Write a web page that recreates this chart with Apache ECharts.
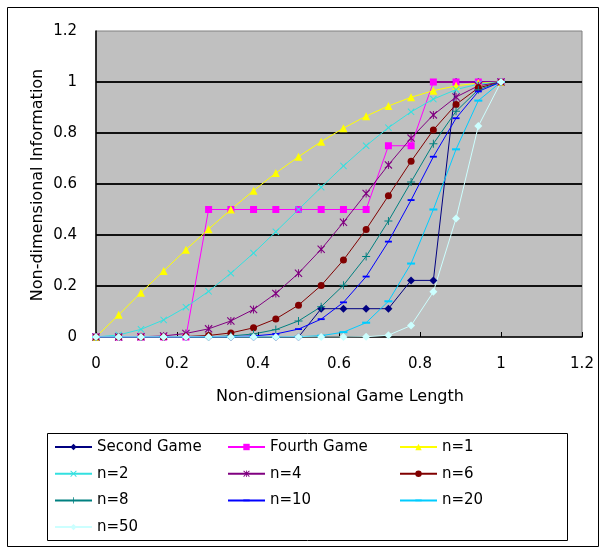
<!DOCTYPE html>
<html>
<head>
<meta charset="utf-8">
<script src="https://cdn.jsdelivr.net/npm/echarts@6/dist/echarts.min.js"></script>
<style>
  html, body { margin: 0; padding: 0; background: #ffffff; }
  #chart { width: 605px; height: 548px; }
</style>
</head>
<body>
<div id="chart"></div>
<script>
// Non-dimensional game length (x) sampled at 19 positions
const gameLength = [0, 0.056, 0.111, 0.167, 0.222, 0.278, 0.333, 0.389, 0.444, 0.5,
                    0.556, 0.611, 0.667, 0.722, 0.778, 0.833, 0.889, 0.944, 1];

// Non-dimensional information for each curve
const secondGame = [0, 0, 0, 0, 0, 0, 0, 0, 0, 0, 0.111, 0.111, 0.111, 0.111, 0.222, 0.222, 1, 1, 1];
const fourthGame = [0, 0, 0, 0, 0, 0.5, 0.5, 0.5, 0.5, 0.5, 0.5, 0.5, 0.5, 0.75, 0.75, 1, 1, 1, 1];
const n1  = [0, 0.087, 0.174, 0.259, 0.342, 0.423, 0.5, 0.574, 0.643, 0.707, 0.766, 0.819, 0.866, 0.906, 0.94, 0.966, 0.985, 0.996, 1];
const n2  = [0, 0.008, 0.03, 0.067, 0.117, 0.179, 0.25, 0.329, 0.413, 0.5, 0.587, 0.671, 0.75, 0.821, 0.883, 0.933, 0.97, 0.992, 1];
const n4  = [0, 0, 0.001, 0.004, 0.014, 0.032, 0.063, 0.108, 0.171, 0.25, 0.344, 0.45, 0.563, 0.675, 0.78, 0.871, 0.941, 0.985, 1];
const n6  = [0, 0, 0, 0, 0.002, 0.006, 0.016, 0.036, 0.071, 0.125, 0.202, 0.302, 0.422, 0.554, 0.689, 0.812, 0.912, 0.977, 1];
const n8  = [0, 0, 0, 0, 0, 0.001, 0.004, 0.012, 0.029, 0.063, 0.119, 0.203, 0.316, 0.455, 0.608, 0.758, 0.885, 0.97, 1];
const n10 = [0, 0, 0, 0, 0, 0, 0.001, 0.004, 0.012, 0.031, 0.07, 0.136, 0.237, 0.374, 0.537, 0.707, 0.858, 0.963, 1];
const n20 = [0, 0, 0, 0, 0, 0, 0, 0, 0, 0.001, 0.005, 0.019, 0.056, 0.14, 0.288, 0.5, 0.736, 0.927, 1];
const n50 = [0, 0, 0, 0, 0, 0, 0, 0, 0, 0, 0, 0, 0.001, 0.007, 0.045, 0.177, 0.465, 0.827, 1];

// Axis ticks
const axisTicks = [0, 0.2, 0.4, 0.6, 0.8, 1, 1.2];

// Marker shapes (all drawn in a square 10x10 box)
const CROSS = 'path://M0,1 L1,0 L5,4 L9,0 L10,1 L6,5 L10,9 L9,10 L5,6 L1,10 L0,9 L4,5 Z';
const STAR = 'path://M0,1 L1,0 L5,4 L9,0 L10,1 L6,5 L10,9 L9,10 L5,6 L1,10 L0,9 L4,5 Z M4.4,0 L5.6,0 L5.6,10 L4.4,10 Z';
const PLUS = 'path://M4.4,0 L5.6,0 L5.6,4.4 L10,4.4 L10,5.6 L5.6,5.6 L5.6,10 L4.4,10 L4.4,5.6 L0,5.6 L0,4.4 L4.4,4.4 Z';
const DASH = 'path://M0,3.7 L10,3.7 L10,6.3 L0,6.3 Z M0,0 L0,0 M10,10 L10,10';

const FONT = 'DejaVu Sans';

function makeSeries(name, values, color, symbol, size) {
  return {
    name: name,
    type: 'line',
    data: values.map((v, i) => [gameLength[i], v]),
    color: color,
    symbol: symbol,
    symbolSize: size,
    showAllSymbol: true,
    smooth: false,
    lineStyle: { width: 1, color: color },
    itemStyle: { color: color, borderColor: color, borderWidth: 0 },
    emphasis: { disabled: true },
    animation: false
  };
}

const series = [
  makeSeries('Second Game', secondGame, '#000080', 'diamond', 8),
  makeSeries('Fourth Game', fourthGame, '#ff00ff', 'rect', 7),
  makeSeries('n=1', n1, '#ffff00', 'triangle', 8),
  makeSeries('n=2', n2, '#33e0e0', CROSS, 7),
  makeSeries('n=4', n4, '#800080', STAR, 8),
  makeSeries('n=6', n6, '#800000', 'circle', 7),
  makeSeries('n=8', n8, '#008080', PLUS, 8),
  makeSeries('n=10', n10, '#0000ff', DASH, 7),
  makeSeries('n=20', n20, '#00ccff', DASH, 8),
  makeSeries('n=50', n50, '#ccffff', 'diamond', 8)
];

function legendColumn(left, names) {
  return {
    orient: 'vertical',
    left: left,
    top: 439,
    padding: 0,
    itemWidth: 37,
    itemHeight: 8,
    itemGap: 10.7,
    selectedMode: false,
    data: names,
    textStyle: { fontFamily: FONT, fontSize: 15, color: '#000', lineHeight: 16, padding: [0, 0, 0, 0] }
  };
}

const axisLabelStyle = { fontFamily: FONT, fontSize: 15, color: '#000' };

const option = {
  backgroundColor: '#ffffff',
  animation: false,
  grid: {
    left: 96, top: 31, width: 486, height: 306,
    show: true, backgroundColor: '#c0c0c0', borderColor: '#808080', borderWidth: 1
  },
  xAxis: {
    type: 'value',
    min: axisTicks[0], max: axisTicks[axisTicks.length - 1], interval: 0.2,
    axisLine: { show: true, lineStyle: { color: '#000', width: 1.5 } },
    axisTick: { show: true, inside: true, length: 5, lineStyle: { color: '#000', width: 1 } },
    splitLine: { show: false },
    axisLabel: Object.assign({ margin: 20 }, axisLabelStyle)
  },
  yAxis: {
    type: 'value',
    min: axisTicks[0], max: axisTicks[axisTicks.length - 1], interval: 0.2,
    axisLine: { show: true, lineStyle: { color: '#000', width: 1.5 } },
    axisTick: { show: false },
    splitLine: { show: true, showMinLine: false, showMaxLine: false, lineStyle: { color: '#111', width: 2 } },
    axisLabel: Object.assign({ margin: 19 }, axisLabelStyle)
  },
  legend: [
    legendColumn(54, ['Second Game', 'n=2', 'n=8', 'n=50']),
    legendColumn(227, ['Fourth Game', 'n=4', 'n=10']),
    legendColumn(399, ['n=1', 'n=6', 'n=20'])
  ],
  graphic: [
    { type: 'rect', z: -10, silent: true,
      shape: { x: 7.5, y: 7.5, width: 591, height: 539 },
      style: { fill: 'none', stroke: '#000', lineWidth: 1 } },
    { type: 'rect', z: -10, silent: true,
      shape: { x: 47.5, y: 433.5, width: 520, height: 107 },
      style: { fill: 'none', stroke: '#000', lineWidth: 1 } },
    { type: 'text', silent: true, x: 340, y: 397,
      style: { text: 'Non-dimensional Game Length', fontFamily: FONT, fontSize: 16, fill: '#000',
               textAlign: 'center', textVerticalAlign: 'middle' } },
    { type: 'text', silent: true, x: 38, y: 185, rotation: Math.PI / 2,
      style: { text: 'Non-dimensional Information', fontFamily: FONT, fontSize: 16, fill: '#000',
               textAlign: 'center', textVerticalAlign: 'middle' } }
  ],
  series: series
};

const chart = echarts.init(document.getElementById('chart'), null, { renderer: 'canvas' });
chart.setOption(option);
</script>
</body>
</html>
